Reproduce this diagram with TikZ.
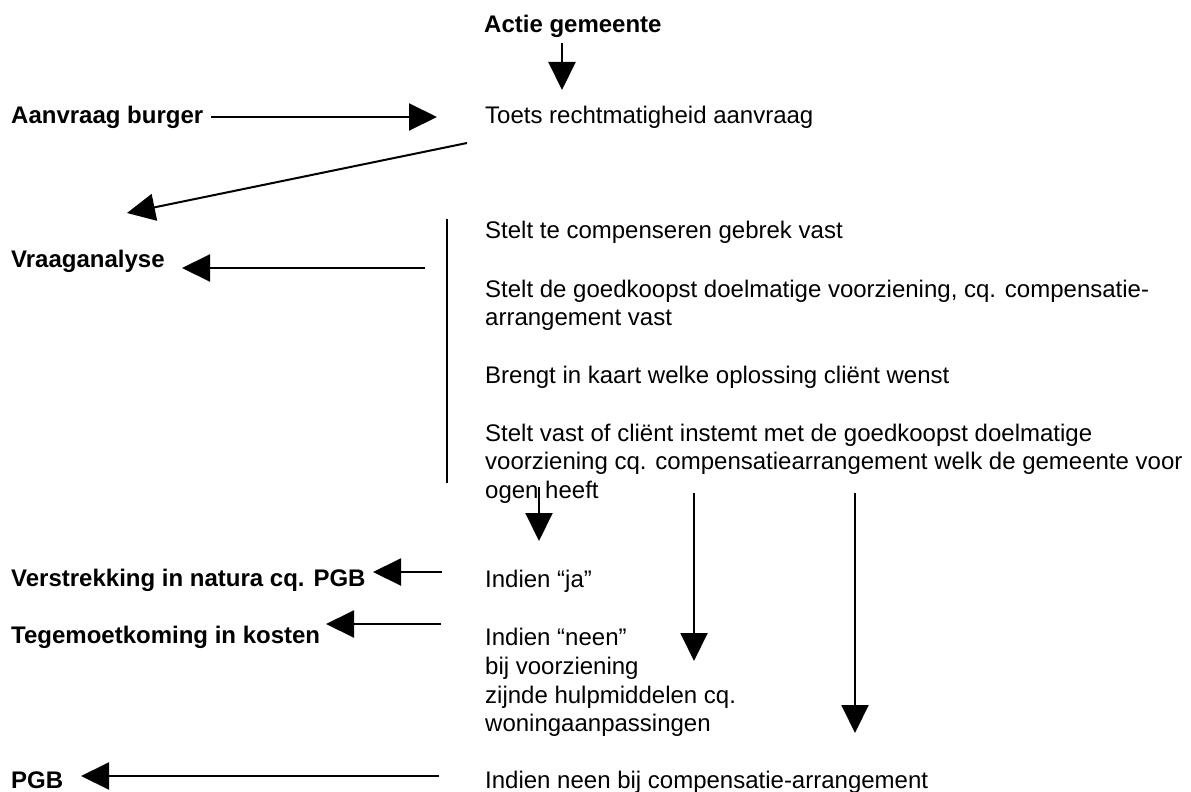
\documentclass[tikz,border=0pt]{standalone}
\usepackage{fontspec}
\setmainfont{Liberation Sans}
\usetikzlibrary{arrows.meta}
\begin{document}
\begin{tikzpicture}[x=1pt,y=-1pt,
  txt/.style={anchor=base west,inner sep=0pt,font=\fontsize{24}{28.5}\selectfont},
  btxt/.style={txt,font=\fontsize{24}{28.5}\selectfont\bfseries},
  arr/.style={line width=2pt,-{Triangle[length=28pt,width=27pt]}},
  bar/.style={line width=2pt}]
\useasboundingbox (0,0) rectangle (1191,792);
% texts
\node[btxt] (actie) at (484,33) {Actie gemeente};
\node[btxt] (aanvraag) at (11,123) {Aanvraag burger};
\node[txt] (toets) at (485,123) {Toets rechtmatigheid aanvraag};
\node[btxt] (vraag) at (11,267) {Vraaganalyse};
\node[txt] (s1) at (485,238) {Stelt te compenseren gebrek vast};
\node[txt] (s2a) at (485,297) {Stelt de goedkoopst doelmatige voorziening, cq. compensatie-};
\node[txt] (s2b) at (485,325) {arrangement vast};
\node[txt] (s3) at (485,383) {Brengt in kaart welke oplossing cliënt wenst};
\node[txt] (s4a) at (485,441) {Stelt vast of cliënt instemt met de goedkoopst doelmatige};
\node[txt] (s4b) at (485,469) {voorziening cq. compensatiearrangement welk de gemeente voor};
\node[txt] (s4c) at (485,498) {ogen heeft};
\node[btxt] (verstr) at (11,586) {Verstrekking in natura cq. PGB};
\node[txt] (ja) at (485,587) {Indien “ja”};
\node[btxt] (tegem) at (11,643) {Tegemoetkoming in kosten};
\node[txt] (neen1) at (485,645) {Indien “neen”};
\node[txt] (neen2) at (485,674) {bij voorziening};
\node[txt] (neen3) at (485,703) {zijnde hulpmiddelen cq.};
\node[txt] (neen4) at (485,731) {woningaanpassingen};
\node[btxt] (pgb) at (11,788) {PGB};
\node[txt] (comp) at (485,788) {Indien neen bij compensatie-arrangement};
% connector ends
\coordinate (a1s) at (562,43);   \coordinate (a1e) at (562,90);
\coordinate (a2s) at (211,117);  \coordinate (a2e) at (437,117);
\coordinate (a3s) at (467,143);  \coordinate (a3e) at (127,213);
\coordinate (vbt) at (447,219);  \coordinate (vbb) at (447,483);
\coordinate (a4s) at (425,268);  \coordinate (a4e) at (182,268);
\coordinate (d1s) at (539,487);  \coordinate (d1e) at (539,541);
\coordinate (d2s) at (694,493);  \coordinate (d2e) at (694,661);
\coordinate (d3s) at (855,493);  \coordinate (d3e) at (855,733);
\coordinate (l1s) at (442,572);  \coordinate (l1e) at (373,572);
\coordinate (l2s) at (441,624);  \coordinate (l2e) at (326,624);
\coordinate (l3s) at (439,776);  \coordinate (l3e) at (81,776);
% connectors
\draw[arr] (a1s) -- (a1e);
\draw[arr] (a2s) -- (a2e);
\draw[arr] (a3s) -- (a3e);
\draw[bar] (vbt) -- (vbb);
\draw[arr] (a4s) -- (a4e);
\draw[arr] (d1s) -- (d1e);
\draw[arr] (d2s) -- (d2e);
\draw[arr] (d3s) -- (d3e);
\draw[arr] (l1s) -- (l1e);
\draw[arr] (l2s) -- (l2e);
\draw[arr] (l3s) -- (l3e);
\end{tikzpicture}
\end{document}
